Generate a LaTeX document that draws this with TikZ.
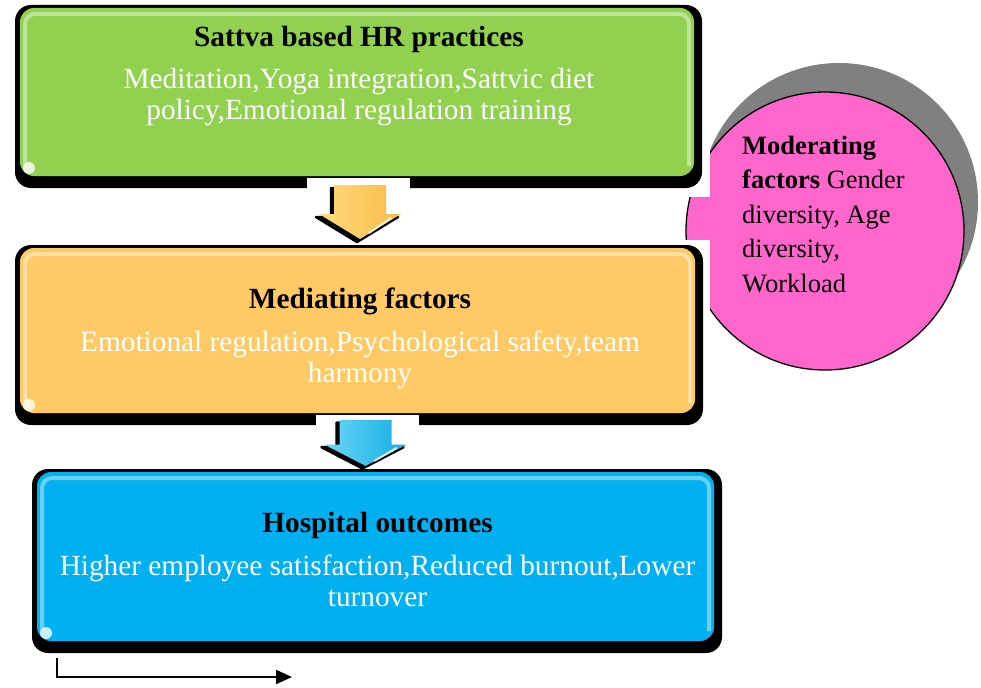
\documentclass[tikz,border=0pt]{standalone}
\usepackage{fontspec}
\setmainfont{Liberation Serif}
\usetikzlibrary{calc,arrows.meta}

\definecolor{sattvagreen}{HTML}{92D050}
\definecolor{mediatorange}{HTML}{FFC966}
\definecolor{outcomeblue}{HTML}{00B0F0}
\definecolor{moderpink}{HTML}{FF66CC}
\definecolor{discshadow}{HTML}{808080}
\definecolor{ylwlight}{HTML}{FFD97E}
\definecolor{ylwdark}{HTML}{F8BC45}
\definecolor{blulight}{HTML}{6AD8F8}
\definecolor{bludark}{HTML}{14ABE2}

\pgfdeclarelayer{disc}
\pgfdeclarelayer{mask}
\pgfdeclarelayer{depth}
\pgfsetlayers{disc,mask,depth,main}

\tikzset{
  panel/.style={rectangle, rounded corners=14pt, fill=#1, draw=none,
    inner sep=0pt, outer sep=0pt},
  depthbox/.style={fill=black, rounded corners=16pt},
  gloss/.style={draw=#1!40!white, line width=4pt, rounded corners=10pt, opacity=.7},
  glint/.style={fill=white, opacity=.8},
  headtext/.style={font=\bfseries\fontsize{29.3}{31}\selectfont, text=black,
    anchor=base, inner sep=0pt},
  % multi-line nodes: the base anchor sits on the last line
  bodytext/.style={font=\fontsize{29.3}{31}\selectfont, text=white,
    anchor=base, align=center, inner sep=0pt},
  disctext/.style={font=\fontsize{26.5}{34.5}\selectfont, text=black,
    anchor=base west, align=left, inner sep=0pt},
  legendline/.style={line width=2pt, -{Triangle[length=16pt,width=14pt]}},
  pics/blockdown/.style 2 args={code={
    % dark cast shadow of the block arrow
    \path[fill=black, draw=black, line width=2.5pt, line join=round, shift={(-3,3)}]
      (-26,0) -- (26,0) -- (26,29) -- (41,29) -- (0,54) -- (-41,29) -- (-26,29) -- cycle;
    % coloured face
    \path[left color=#1, right color=#2]
      (-26,0) -- (26,0) -- (26,29) -- (41,29) -- (0,54) -- (-41,29) -- (-26,29) -- cycle;
    % small specular streak on the head
    \draw[white, opacity=.8, line width=2pt, line cap=round] (31,33) -- (9,48);
  }}
}

\begin{document}
\begin{tikzpicture}[x=1pt, y=-1pt]
\useasboundingbox (0,0) rectangle (981,687);

% ---- moderating factors disc and its offset shadow
\begin{pgfonlayer}{disc}
  \fill[white] (0,0) rectangle (981,687);
  \node[circle, minimum size=278pt, fill=discshadow, inner sep=0pt] (discback) at (839,202) {};
  \node[circle, minimum size=278pt, fill=moderpink, draw=black, line width=1.3pt, inner sep=0pt] (moder) at (825,231) {};
\end{pgfonlayer}

% ---- white page areas of the two upper panels, lying over the disc
\begin{pgfonlayer}{mask}
  \fill[white] (0,0) rectangle (710,197);
  \fill[white] (0,240) rectangle (710,435);
\end{pgfonlayer}

% ---- the three panels
\node[panel=sattvagreen, minimum width=674pt, minimum height=168pt] (sattva) at (357,92) {};
\node[panel=mediatorange, minimum width=675pt, minimum height=165pt] (mediat) at (357.5,330.5) {};
\node[panel=outcomeblue, minimum width=677pt, minimum height=169pt] (outcome) at (375.5,556.5) {};

% black raised edges behind the panels
\begin{pgfonlayer}{depth}
  \foreach \p in {sattva, mediat, outcome}{
    \fill[depthbox] ($(\p.north west)+(-5,-3)$) rectangle ($(\p.south east)+(8,12)$);
  }
  % white gaps around the block arrows
  \fill[white] (307,178) rectangle (410,245);
  \fill[white] (316,415) rectangle (419,468);
\end{pgfonlayer}

% glossy rims and corner glints
\foreach \p/\c in {sattva/sattvagreen, mediat/mediatorange, outcome/outcomeblue}{
  \draw[gloss=\c] ($(\p.south west)+(5,-10)$) -- ($(\p.north west)+(5,6)$)
    -- ($(\p.north east)+(-5,6)$) -- ($(\p.south east)+(-5,-10)$);
  \fill[glint] ($(\p.south west)+(9,-8)$) circle (6pt);
}

% ---- panel texts
\node[headtext] (sattvahead) at (359,47) {Sattva based HR practices};
\node[bodytext] (sattvabody) at (359,120)
  {Meditation,Yoga integration,Sattvic diet\\policy,Emotional regulation training};

\node[headtext] (mediathead) at (360,308) {Mediating factors};
\node[bodytext] (mediatbody) at (360,382)
  {Emotional regulation,Psychological safety,team\\harmony};

\node[headtext] (outcomehead) at (377.5,532) {Hospital outcomes};
\node[bodytext] (outcomebody) at (377.5,606)
  {Higher employee satisfaction,Reduced burnout,Lower\\turnover};

\node[disctext] (modertext) at (742,292)
  {\textbf{Moderating}\\\textbf{factors} Gender\\diversity, Age\\diversity,\\Workload};

% ---- block arrows between the panels
\pic at ($(sattva.south)+(3,9)$) {blockdown={ylwlight}{ylwdark}};
\pic[yscale=0.85] at ($(mediat.south)+(8,7)$) {blockdown={blulight}{bludark}};

% ---- elbow arrow below the outcomes panel
\coordinate (legstart) at (57,658);
\coordinate (legtip) at (292,677);
\draw[legendline] (legstart) |- (legtip);
\end{tikzpicture}
\end{document}
